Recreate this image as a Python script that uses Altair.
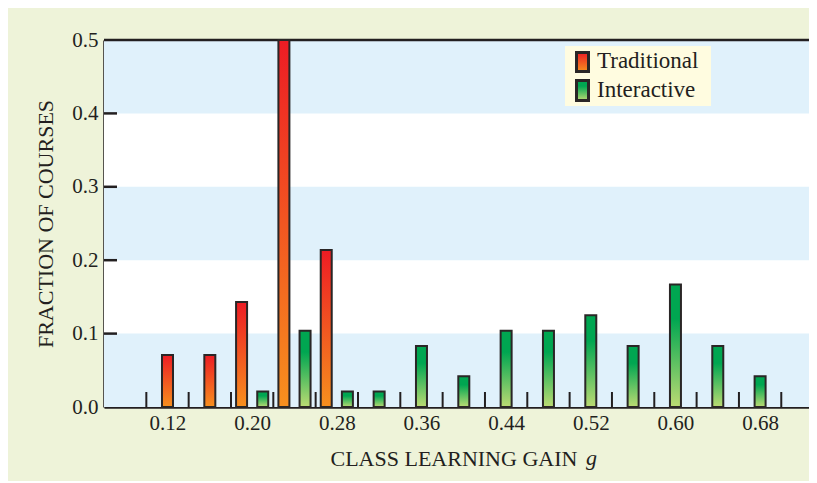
import altair as alt
import pandas as pd

# ---------------- data ----------------
bins = [0.12, 0.16, 0.20, 0.24, 0.28, 0.32, 0.36, 0.40, 0.44, 0.48, 0.52, 0.56, 0.60, 0.64, 0.68]
traditional = [0.071, 0.071, 0.143, 0.500, 0.214, 0, 0, 0, 0, 0, 0, 0, 0, 0, 0]
interactive = [0, 0, 0.021, 0.104, 0.021, 0.021, 0.083, 0.042, 0.104, 0.104, 0.125, 0.083, 0.167, 0.083, 0.042]
series = ["Traditional", "Interactive"]
bin_edges = [0.10, 0.14, 0.18, 0.22, 0.26, 0.30, 0.34, 0.38, 0.42, 0.46, 0.50, 0.54, 0.58, 0.62, 0.66, 0.70]
x_label_values = [0.12, 0.20, 0.28, 0.36, 0.44, 0.52, 0.60, 0.68]
y_label_values = [0.0, 0.1, 0.2, 0.3, 0.4, 0.5]
y_inner_ticks = [0.1, 0.2, 0.3, 0.4]
band_lo = [0.0, 0.2, 0.4]
band_hi = [0.1, 0.3, 0.5]
x_title = "CLASS LEARNING GAIN"
x_title_var = "g"
y_title = "FRACTION OF COURSES"

# ---------------- styling ----------------
W, H = 705, 367
INK = "#231F20"
BG = "#EEF3D9"
BAND = "#E0F1FB"
LEGEND_BG = "#FFFCE0"
FONT = "Liberation Serif"

grad_trad = {
    "gradient": "linear", "x1": 0, "y1": 0, "x2": 0, "y2": 1,
    "stops": [{"offset": 0, "color": "#ED1C24"}, {"offset": 1, "color": "#F7901E"}],
}
grad_inter = {
    "gradient": "linear", "x1": 0, "y1": 0, "x2": 0, "y2": 1,
    "stops": [{"offset": 0, "color": "#00A651"}, {"offset": 0.28, "color": "#00A651"},
              {"offset": 1, "color": "#BCDB73"}],
}

rows = []
for b, t, i in zip(bins, traditional, interactive):
    if t > 0:
        rows.append({"g": b, "series": series[0], "fraction": t})
    if i > 0:
        rows.append({"g": b, "series": series[1], "fraction": i})
df = pd.DataFrame(rows)

xscale = alt.Scale(domain=[0.06, 0.7262], nice=False, zero=False, padding=0)
yscale = alt.Scale(domain=[0, 0.5], nice=False, padding=0)

xaxis = alt.Axis(
    values=x_label_values, format=".2f", ticks=False, tickSize=0, grid=False,
    domainColor=INK, domainWidth=2.5, labelFontSize=21, labelPadding=5,
    labelColor=INK, labelFont=FONT, labelFlush=False, labelOverlap=False,
    title=x_title, titleFont=FONT, titleFontSize=22, titleFontWeight="normal",
    titleColor=INK, titleX=226, titleY=58, titleAlign="left",
    titleBaseline="alphabetic", titleAnchor="start",
)
yaxis = alt.Axis(
    values=y_label_values, format=".1f", ticks=False, tickSize=0, grid=False,
    domainColor=INK, domainWidth=2.5, labelFontSize=21, labelPadding=6,
    labelColor=INK, labelFont=FONT, labelFlush=False, labelOverlap=False,
    title=y_title, titleFont=FONT, titleFontSize=22, titleFontWeight="normal",
    titleColor=INK, titleAngle=270, titleX=-52, titleY=H / 2,
    titleAlign="center", titleBaseline="alphabetic",
)

# plot background (white) and blue bands
white_bg = alt.Chart(pd.DataFrame({"lo": [y_label_values[0]], "hi": [y_label_values[-1]]})).mark_rect(
    color="white"
).encode(
    y=alt.Y("lo:Q", scale=yscale, axis=yaxis),
    y2="hi:Q",
    x=alt.value(0),
    x2=alt.value(W),
)
bands = alt.Chart(pd.DataFrame({"lo": band_lo, "hi": band_hi})).mark_rect(color=BAND).encode(
    y=alt.Y("lo:Q", scale=yscale, axis=yaxis),
    y2="hi:Q",
    x=alt.value(0),
    x2=alt.value(W),
)

# top border
top = alt.Chart(pd.DataFrame({"top": [y_label_values[-1]]})).mark_rule(
    color=INK, strokeWidth=2.5
).encode(y=alt.Y("top:Q", scale=yscale, axis=yaxis))

# bars
base = alt.Chart(df).transform_joinaggregate(
    n="count()", groupby=["g"]
).transform_calculate(
    pos="datum.g + (datum.n > 1 ? (datum.series == 'Traditional' ? -0.01 : 0.01) : 0)"
)

bars_trad = base.transform_filter(alt.datum.series == series[0]).mark_bar(
    size=11, fill=grad_trad, stroke="#2A2626", strokeWidth=2
).encode(
    x=alt.X("pos:Q", scale=xscale, axis=xaxis),
    y=alt.Y("fraction:Q", scale=yscale, axis=yaxis),
)
bars_inter = base.transform_filter(alt.datum.series == series[1]).mark_bar(
    size=11, fill=grad_inter, stroke="#2A2626", strokeWidth=2
).encode(
    x=alt.X("pos:Q", scale=xscale, axis=xaxis),
    y=alt.Y("fraction:Q", scale=yscale, axis=yaxis),
)

# bin-edge ticks on the x axis
edge_ticks = alt.Chart(pd.DataFrame({"edge": bin_edges})).mark_rule(
    color=INK, strokeWidth=2
).encode(
    x=alt.X("edge:Q", scale=xscale, axis=xaxis),
    y=alt.value(H),
    y2=alt.value(H - 15),
)

# inward ticks on the y axis
y_ticks = alt.Chart(pd.DataFrame({"v": y_inner_ticks})).mark_rule(
    color=INK, strokeWidth=2.5
).encode(
    y=alt.Y("v:Q", scale=yscale, axis=yaxis),
    x=alt.value(0),
    x2=alt.value(13),
)

# italic variable after x title
g_text = alt.Chart(pd.DataFrame({"t": [x_title_var]})).mark_text(
    font=FONT, fontSize=22, fontStyle="italic", align="left", baseline="alphabetic", color=INK
).encode(x=alt.value(482), y=alt.value(425), text="t:N")

# legend
leg_df = pd.DataFrame({"series": series})
legend_box = alt.Chart(leg_df.head(1)).mark_rect(fill=LEGEND_BG).encode(
    x=alt.value(461), x2=alt.value(607), y=alt.value(6), y2=alt.value(66)
)
leg_sym1 = alt.Chart(leg_df.head(1)).mark_rect(fill=grad_trad, stroke="#2A2626", strokeWidth=3).encode(
    x=alt.value(472.5), x2=alt.value(484.5), y=alt.value(12.5), y2=alt.value(31.5)
)
leg_sym2 = alt.Chart(leg_df.head(1)).mark_rect(fill=grad_inter, stroke="#2A2626", strokeWidth=3).encode(
    x=alt.value(472.5), x2=alt.value(484.5), y=alt.value(40.5), y2=alt.value(60.5)
)
leg_txt1 = alt.Chart(leg_df.iloc[[0]]).mark_text(
    font=FONT, fontSize=23, align="left", baseline="alphabetic", color=INK
).encode(x=alt.value(493), y=alt.value(28), text="series:N")
leg_txt2 = alt.Chart(leg_df.iloc[[1]]).mark_text(
    font=FONT, fontSize=23, align="left", baseline="alphabetic", color=INK
).encode(x=alt.value(493), y=alt.value(57), text="series:N")

chart = alt.layer(
    white_bg, bands, top, bars_trad, bars_inter, edge_ticks, y_ticks, g_text,
    legend_box, leg_sym1, leg_sym2, leg_txt1, leg_txt2,
).properties(
    width=W, height=H,
    padding={"left": 96, "top": 32, "right": 0, "bottom": 74},
    autosize=alt.AutoSizeParams(type="none"),
    background=BG,
).configure(font=FONT).configure_view(stroke=None)

chart.save("out.html", embed_options={"renderer": "svg", "actions": False})
